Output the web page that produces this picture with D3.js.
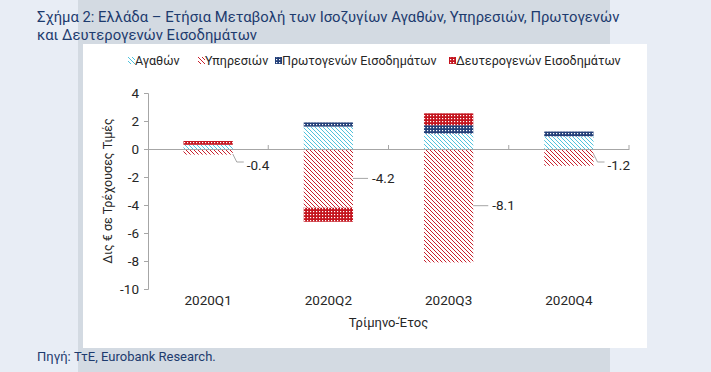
<!DOCTYPE html>
<html>
<head>
<meta charset="utf-8">
<script src="https://cdn.jsdelivr.net/npm/d3@7"></script>
<style>
  body { margin: 0; background: #e8edf5; }
  svg { display: block; }
</style>
</head>
<body>
<div id="chart"></div>
<script>
// values
let quarters = ["2020Q1", "2020Q2", "2020Q3", "2020Q4"];
let goods = [0.3, 1.6, 1.1, 0.9];
let services = [-0.4, -4.2, -8.1, -1.2];
let primary = [0.0, 0.3, 0.6, 0.35];
let secondary = [0.27, -1.0, 0.85, 0.0];
let yTicks = [4, 2, 0, -2, -4, -6, -8, -10];

let keys = ["goods", "services", "primary", "secondary"];
let names = ["Αγαθών", "Υπηρεσιών", "Πρωτογενών Εισοδημάτων", "Δευτερογενών Εισοδημάτων"];

let rows = quarters.map(function(q, i) {
    return { q: q, goods: goods[i], services: services[i], primary: primary[i], secondary: secondary[i] };
});

let font = "Roboto, 'Noto Sans', sans-serif";
let navy = "#1d3b6e";

let svg = d3.select("#chart").append("svg")
    .attr("width", 711)
    .attr("height", 372);

// fill patterns
let defs = svg.append("defs");

function hatch(id, color) {
    let p = defs.append("pattern")
        .attr("id", id)
        .attr("width", 4).attr("height", 4)
        .attr("patternUnits", "userSpaceOnUse");
    p.append("rect").attr("width", 4).attr("height", 4).attr("fill", "#fff");
    p.append("path")
        .attr("d", "M0,0 L4,4 M-1,3 L1,5 M3,-1 L5,1")
        .attr("stroke", color)
        .attr("stroke-width", 1);
}

function checker(id, color) {
    let p = defs.append("pattern")
        .attr("id", id)
        .attr("width", 3).attr("height", 3)
        .attr("patternUnits", "userSpaceOnUse");
    p.append("rect").attr("width", 3).attr("height", 3).attr("fill", color);
    p.append("rect").attr("x", 1).attr("y", 1).attr("width", 1.2).attr("height", 1.2).attr("fill", "#fff");
}

hatch("p-goods", "#4fc3dd");
hatch("p-services", "#c8202c");
checker("p-primary", "#233f78");
checker("p-secondary", "#c4141e");

let fills = {
    goods: "url(#p-goods)",
    services: "url(#p-services)",
    primary: "url(#p-primary)",
    secondary: "url(#p-secondary)"
};

// background panels
svg.append("rect").attr("x", 78).attr("y", 0).attr("width", 532).attr("height", 372).attr("fill", "#d3dae2");
svg.append("rect").attr("x", 83).attr("y", 44).attr("width", 564).attr("height", 304).attr("fill", "#fff");

// title
svg.append("text")
    .attr("x", 37).attr("y", 22)
    .attr("font-family", font).attr("font-size", 14.8)
    .attr("fill", navy)
    .text("Σχήμα 2: Ελλάδα – Ετήσια Μεταβολή των Ισοζυγίων Αγαθών, Υπηρεσιών, Πρωτογενών");
svg.append("text")
    .attr("x", 37).attr("y", 40)
    .attr("font-family", font).attr("font-size", 14.8)
    .attr("fill", navy)
    .text("και Δευτερογενών Εισοδημάτων");

// source
svg.append("text")
    .attr("x", 37).attr("y", 361)
    .attr("font-family", font).attr("font-size", 13)
    .attr("fill", navy)
    .text("Πηγή: ΤτΕ, Eurobank Research.");

// scales
let x = d3.scaleBand()
    .domain(quarters)
    .range([148, 629])
    .paddingInner(0.59)
    .paddingOuter(0.295);

let bands = d3.scaleBand().domain(quarters).range([148, 629]);

let y = d3.scaleLinear()
    .domain([-10, 4])
    .range([289, 93]);

// bars
let series = d3.stack()
    .keys(keys)
    .offset(d3.stackOffsetDiverging)(rows);

svg.append("g")
    .selectAll("g")
    .data(series)
    .join("g")
    .attr("fill", function(s) { return fills[s.key]; })
    .selectAll("rect")
    .data(function(s) { return s; })
    .join("rect")
    .attr("x", function(d) { return x(d.data.q); })
    .attr("width", x.bandwidth())
    .attr("y", function(d) { return y(Math.max(d[0], d[1])); })
    .attr("height", function(d) { return Math.abs(y(d[0]) - y(d[1])); });

// y axis
let yAxis = svg.append("g")
    .attr("transform", "translate(148,0)")
    .call(d3.axisLeft(y).tickValues(yTicks).tickSize(4).tickPadding(5).tickFormat(d3.format("d")));
yAxis.select(".domain").attr("stroke", "#a6a6a6");
yAxis.selectAll(".tick line").attr("stroke", "#a6a6a6");
yAxis.selectAll(".tick text")
    .attr("font-family", font).attr("font-size", 13.5)
    .attr("fill", "#262626")
    .text(function(d) { return d < 0 ? "-" + Math.abs(d) : d; });

// x axis on the zero line
let xAxis = svg.append("g")
    .attr("transform", "translate(0," + y(0) + ")")
    .call(d3.axisTop(bands).tickSize(0).tickFormat(""));
xAxis.select(".domain").attr("stroke", "#a6a6a6");
xAxis.selectAll(".tick").remove();
xAxis.selectAll(".cut")
    .data(quarters)
    .join("line")
    .attr("class", "cut")
    .attr("x1", function(d) { return bands(d) + bands.bandwidth(); })
    .attr("x2", function(d) { return bands(d) + bands.bandwidth(); })
    .attr("y1", 0).attr("y2", -4)
    .attr("stroke", "#a6a6a6");

// category labels at the bottom
svg.append("g")
    .selectAll("text")
    .data(quarters)
    .join("text")
    .attr("x", function(d) { return bands(d) + bands.bandwidth() / 2; })
    .attr("y", 305)
    .attr("text-anchor", "middle")
    .attr("font-family", font).attr("font-size", 13.5)
    .attr("fill", "#262626")
    .text(function(d) { return d; });

// axis titles
svg.append("text")
    .attr("x", bands(quarters[0]) + 2 * bands.bandwidth())
    .attr("y", 327)
    .attr("text-anchor", "middle")
    .attr("font-family", font).attr("font-size", 13)
    .attr("fill", "#262626")
    .text("Τρίμηνο-Έτος");

svg.append("text")
    .attr("transform", "translate(112," + y(-3) + ") rotate(-90)")
    .attr("text-anchor", "middle")
    .attr("font-family", font).attr("font-size", 12.5)
    .attr("fill", "#262626")
    .text("Δις € σε Τρέχουσες Τιμές");

// services data labels with leader lines
let labels = svg.append("g");
rows.forEach(function(r) {
    let right = x(r.q) + x.bandwidth();
    let mid = y(r.services / 2);
    let ly = Math.max(mid, y(0) + 16);
    let path;
    if (ly > mid + 1) {
        path = "M" + right + "," + (y(0) + 5) + " L" + (right + 4) + "," + (ly - 3) + " L" + (right + 11) + "," + (ly - 3);
    } else {
        path = "M" + right + "," + ly + " L" + (right + 15) + "," + ly;
    }
    labels.append("path")
        .attr("d", path)
        .attr("fill", "none")
        .attr("stroke", "#a6a6a6");
    labels.append("text")
        .attr("x", right + (ly > mid + 1 ? 14 : 19))
        .attr("y", ly)
        .attr("dy", "0.35em")
        .attr("font-family", font).attr("font-size", 13.5)
        .attr("fill", "#262626")
        .text(r.services.toFixed(1));
});

// legend
let legendX = [128, 198, 275, 449];
let legend = svg.append("g")
    .selectAll("g")
    .data(keys)
    .join("g")
    .attr("transform", function(d, i) { return "translate(" + legendX[i] + ",61)"; });
legend.append("rect")
    .attr("x", 0).attr("y", -4)
    .attr("width", 7).attr("height", 7)
    .attr("fill", function(d) { return fills[d]; });
legend.append("text")
    .attr("x", 7).attr("y", 0)
    .attr("dy", "0.35em")
    .attr("font-family", font).attr("font-size", 12.5)
    .attr("fill", "#262626")
    .text(function(d, i) { return names[i]; });
</script>
</body>
</html>
